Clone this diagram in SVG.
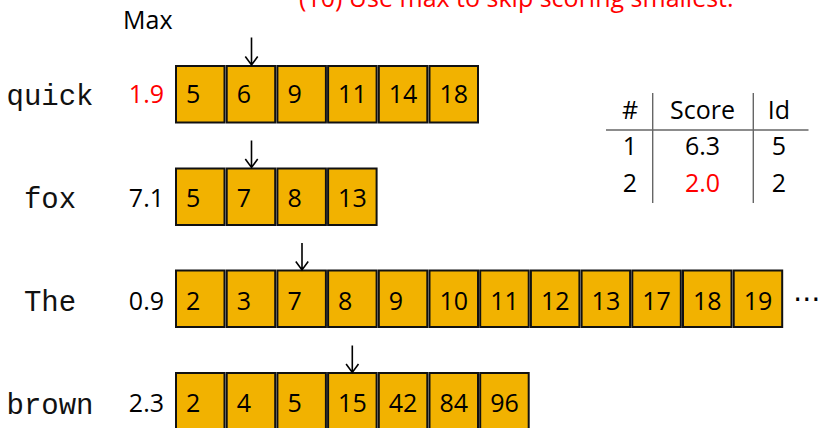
<svg xmlns="http://www.w3.org/2000/svg" width="820" height="428" viewBox="0 0 820 428">
<style>
.t{font-family:"Open Sans","Noto Sans","Liberation Sans",sans-serif;font-size:25px;fill:#000}
.red{fill:#ff0000}
.word{font-family:"Liberation Mono","DejaVu Sans Mono",monospace;font-size:29px;fill:#111;text-anchor:middle}
.mx{text-anchor:end}
.box{fill:#F2B200;stroke:#111;stroke-width:2}
.ptr{fill:none;stroke:#000;stroke-width:1.6}
.tl{stroke:#666;stroke-width:1.4}
.c{text-anchor:middle}
</style>
<text class="t red" x="299" y="6.5">(10) Use max to skip scoring smallest.</text>
<text class="t" x="123" y="28.5">Max</text>

<g id="row-quick">
<text class="word" x="50" y="104.5">quick</text>
<text class="t red mx" x="164" y="103">1.9</text>
<rect class="box" x="176" y="66" width="48.5" height="56.5"/><text class="t" x="186" y="103">5</text>
<rect class="box" x="226.7" y="66" width="48.5" height="56.5"/><text class="t" x="236.7" y="103">6</text>
<rect class="box" x="277.4" y="66" width="48.5" height="56.5"/><text class="t" x="287.4" y="103">9</text>
<rect class="box" x="328.1" y="66" width="48.5" height="56.5"/><text class="t" x="338.1" y="103">11</text>
<rect class="box" x="378.8" y="66" width="48.5" height="56.5"/><text class="t" x="388.8" y="103">14</text>
<rect class="box" x="429.5" y="66" width="48.5" height="56.5"/><text class="t" x="439.5" y="103">18</text>
</g>

<g id="row-fox">
<text class="word" x="50" y="207.5">fox</text>
<text class="t mx" x="164" y="206.5">7.1</text>
<rect class="box" x="176" y="168.5" width="48.5" height="56.5"/><text class="t" x="186" y="206.5">5</text>
<rect class="box" x="226.7" y="168.5" width="48.5" height="56.5"/><text class="t" x="236.7" y="206.5">7</text>
<rect class="box" x="277.4" y="168.5" width="48.5" height="56.5"/><text class="t" x="287.4" y="206.5">8</text>
<rect class="box" x="328.1" y="168.5" width="48.5" height="56.5"/><text class="t" x="338.1" y="206.5">13</text>
</g>

<g id="row-the">
<text class="word" x="50" y="310.5">The</text>
<text class="t mx" x="164" y="309.5">0.9</text>
<rect class="box" x="176" y="270.5" width="48.5" height="56.5"/><text class="t" x="186" y="309.5">2</text>
<rect class="box" x="226.7" y="270.5" width="48.5" height="56.5"/><text class="t" x="236.7" y="309.5">3</text>
<rect class="box" x="277.4" y="270.5" width="48.5" height="56.5"/><text class="t" x="287.4" y="309.5">7</text>
<rect class="box" x="328.1" y="270.5" width="48.5" height="56.5"/><text class="t" x="338.1" y="309.5">8</text>
<rect class="box" x="378.8" y="270.5" width="48.5" height="56.5"/><text class="t" x="388.8" y="309.5">9</text>
<rect class="box" x="429.5" y="270.5" width="48.5" height="56.5"/><text class="t" x="439.5" y="309.5">10</text>
<rect class="box" x="480.2" y="270.5" width="48.5" height="56.5"/><text class="t" x="490.2" y="309.5">11</text>
<rect class="box" x="530.9" y="270.5" width="48.5" height="56.5"/><text class="t" x="540.9" y="309.5">12</text>
<rect class="box" x="581.6" y="270.5" width="48.5" height="56.5"/><text class="t" x="591.6" y="309.5">13</text>
<rect class="box" x="632.3" y="270.5" width="48.5" height="56.5"/><text class="t" x="642.3" y="309.5">17</text>
<rect class="box" x="683" y="270.5" width="48.5" height="56.5"/><text class="t" x="693" y="309.5">18</text>
<rect class="box" x="733.7" y="270.5" width="48.5" height="56.5"/><text class="t" x="743.7" y="309.5">19</text>
<text x="807" y="308" style="font-family:'DejaVu Sans',sans-serif;font-size:28px;text-anchor:middle">⋯</text>
</g>

<g id="row-brown">
<text class="word" x="50" y="413.5">brown</text>
<text class="t mx" x="164" y="412">2.3</text>
<rect class="box" x="176" y="373" width="48.5" height="56.5"/><text class="t" x="186" y="412">2</text>
<rect class="box" x="226.7" y="373" width="48.5" height="56.5"/><text class="t" x="236.7" y="412">4</text>
<rect class="box" x="277.4" y="373" width="48.5" height="56.5"/><text class="t" x="287.4" y="412">5</text>
<rect class="box" x="328.1" y="373" width="48.5" height="56.5"/><text class="t" x="338.1" y="412">15</text>
<rect class="box" x="378.8" y="373" width="48.5" height="56.5"/><text class="t" x="388.8" y="412">42</text>
<rect class="box" x="429.5" y="373" width="48.5" height="56.5"/><text class="t" x="439.5" y="412">84</text>
<rect class="box" x="480.2" y="373" width="48.5" height="56.5"/><text class="t" x="490.2" y="412">96</text>
</g>

<g id="table">
<line class="tl" x1="652.7" y1="93" x2="652.7" y2="203"/>
<line class="tl" x1="753.3" y1="93" x2="753.3" y2="203"/>
<line class="tl" x1="606" y1="130" x2="808.5" y2="130"/>
<text class="t c" x="630" y="119">#</text>
<text class="t c" x="702.5" y="119">Score</text>
<text class="t c" x="779" y="119">Id</text>
<text class="t c" x="630" y="155">1</text>
<text class="t c" x="702.5" y="155">6.3</text>
<text class="t c" x="779" y="155">5</text>
<text class="t c" x="630" y="191.5">2</text>
<text class="t c red" x="702.5" y="191.5">2.0</text>
<text class="t c" x="779" y="191.5">2</text>
</g>

<g id="connectors">
<path class="ptr" d="M251.5 37.5V65M245.3 56.5L251.5 65L257.7 56.5"/>
<path class="ptr" d="M251.5 140.5V167.5M245.3 159L251.5 167.5L257.7 159"/>
<path class="ptr" d="M302 243V270M295.8 261.5L302 270L308.2 261.5"/>
<path class="ptr" d="M352.3 345.5V372.5M346.1 364L352.3 372.5L358.5 364"/>
</g>
</svg>
